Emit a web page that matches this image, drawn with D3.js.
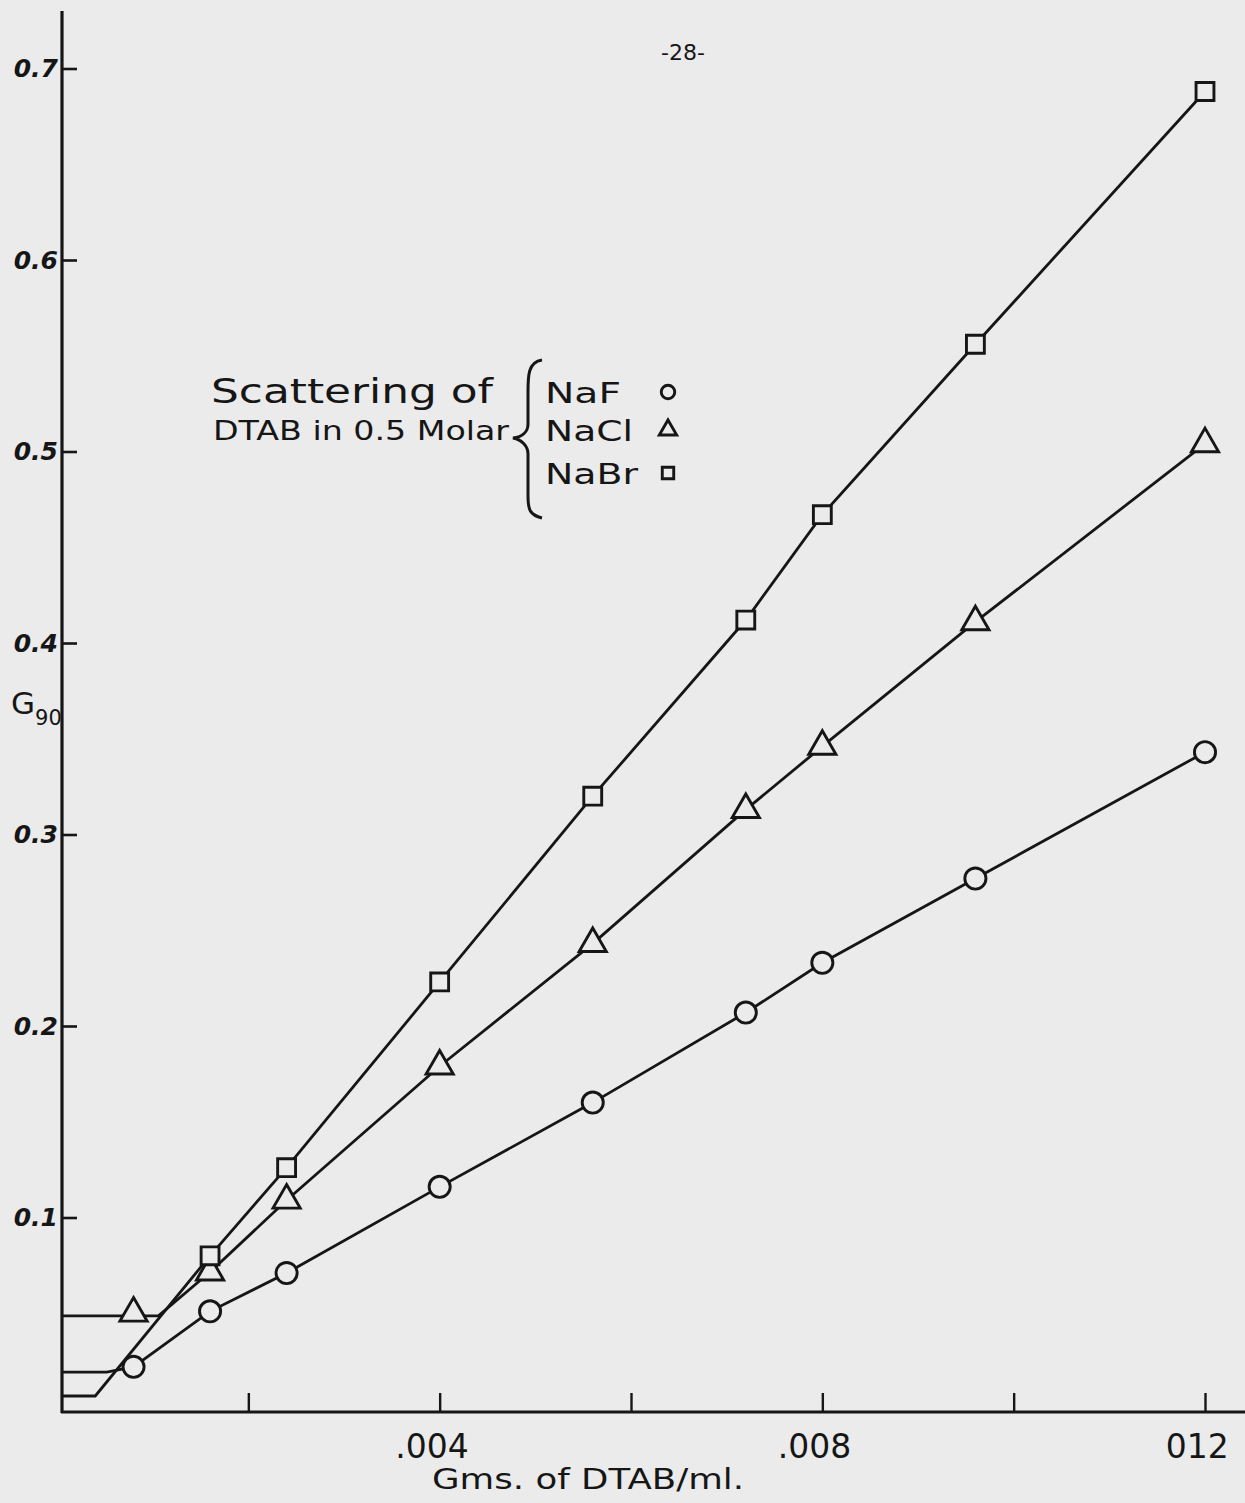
<!DOCTYPE html>
<html>
<head>
<meta charset="UTF-8">
<script src="https://cdn.jsdelivr.net/npm/d3@7"></script>
<style>
  body { margin: 0; background: #ebebeb; }
  svg text { font-family: "DejaVu Sans", sans-serif; fill: #161616; }
</style>
</head>
<body>
<svg id="chart" width="1245" height="1503"></svg>
<script>
// concentration of DTAB, g/ml
const conc = [0.0008, 0.0016, 0.0024, 0.004, 0.0056, 0.0072, 0.008, 0.0096, 0.012];
// G90 for each salt (null = no point)
const naF  = [0.022, 0.051, 0.071, 0.116, 0.160, 0.207, 0.233, 0.277, 0.343];
const naCl = [0.050, 0.0715, 0.109, 0.179, 0.243, 0.313, 0.346, 0.411, 0.504];
const naBr = [null, 0.080, 0.126, 0.223, 0.320, 0.412, 0.467, 0.556, 0.688];
// solvent level (flat part) and where the line starts to rise
const baseLevel = { NaF: 0.0193, NaCl: 0.0486, NaBr: 0.0068 };
const breakConc = { NaF: 0.00052, NaCl: 0.00106, NaBr: 0.0004 };

const yTicks = [0.1, 0.2, 0.3, 0.4, 0.5, 0.6, 0.7];
const xTicks = [0.002, 0.004, 0.006, 0.008, 0.010, 0.012];
const xTickLabels = { 0.004: ".004", 0.008: ".008", 0.012: "012" };

const ink = "#161616";
const paper = "#ebebeb";

const svg = d3.select("#chart");
const x = d3.scaleLinear().domain([0, 0.012]).range([57, 1205]);
const y = d3.scaleLinear().domain([0, 0.7]).range([1409, 68.5]);

const axisX0 = x(0) + 5;     // vertical axis line
const axisY0 = y(0) + 3;     // horizontal axis line

// axes lines
svg.append("line").attr("x1", axisX0).attr("x2", axisX0).attr("y1", 11).attr("y2", axisY0 + 1)
  .attr("stroke", ink).attr("stroke-width", 3.2);
svg.append("line").attr("x1", axisX0 - 1).attr("x2", 1245).attr("y1", axisY0).attr("y2", axisY0)
  .attr("stroke", ink).attr("stroke-width", 3.2);

// y axis ticks
const gy = svg.append("g").attr("transform", `translate(${axisX0},0)`)
  .call(d3.axisLeft(y).tickValues(yTicks).tickFormat(d3.format(".1f"))
    .tickSize(-15).tickSizeOuter(0).tickPadding(4));
gy.select(".domain").remove();
gy.selectAll(".tick line").attr("stroke", ink).attr("stroke-width", 2.6);
gy.selectAll(".tick text").attr("font-size", 25).attr("font-weight", "bold")
  .attr("font-style", "italic").attr("fill", ink);

// x axis ticks
const gx = svg.append("g").attr("transform", `translate(0,${axisY0})`)
  .call(d3.axisBottom(x).tickValues(xTicks).tickFormat(d => xTickLabels[d] || "")
    .tickSize(-19).tickSizeOuter(0).tickPadding(23));
gx.select(".domain").remove();
gx.selectAll(".tick line").attr("stroke", ink).attr("stroke-width", 2.4);
gx.selectAll(".tick text").attr("font-size", 33).attr("fill", ink).attr("dx", "-0.25em");

// axis titles
svg.append("text").attr("x", 432).attr("y", 1489).attr("font-size", 28)
  .attr("textLength", 312).attr("lengthAdjust", "spacingAndGlyphs")
  .text("Gms. of DTAB/ml.");
const g90 = svg.append("text").attr("x", 11).attr("y", 714).attr("font-size", 31);
g90.append("tspan").text("G");
g90.append("tspan").attr("font-size", 21).attr("dy", 11).text("90");

// page number
svg.append("text").attr("x", 683).attr("y", 60).attr("text-anchor", "middle")
  .attr("font-size", 22).text("-28-");

// series
const series = [
  { name: "NaF",  vals: naF,  shape: "circle" },
  { name: "NaCl", vals: naCl, shape: "triangle" },
  { name: "NaBr", vals: naBr, shape: "square" }
];

const line = d3.line().x(d => x(d[0])).y(d => y(d[1]));

series.forEach(s => {
  const pts = [[0, baseLevel[s.name]], [breakConc[s.name], baseLevel[s.name]]];
  conc.forEach((c, i) => {
    if (s.vals[i] != null && c > breakConc[s.name]) pts.push([c, s.vals[i]]);
  });
  pts[0][0] = x.invert(axisX0);
  svg.append("path").datum(pts).attr("d", line)
    .attr("fill", "none").attr("stroke", ink).attr("stroke-width", 2.8);
});

const symType = { circle: d3.symbolCircle, triangle: d3.symbolTriangle, square: d3.symbolSquare };
const symSize = { circle: 350, triangle: 320, square: 320 };

function drawMarker(g, shape, cx, cy, scale) {
  g.append("path")
    .attr("d", d3.symbol().type(symType[shape]).size(symSize[shape] * scale * scale)())
    .attr("transform", `translate(${cx},${cy})`)
    .attr("fill", paper).attr("stroke", ink).attr("stroke-width", 2.9);
}

series.forEach(s => {
  const g = svg.append("g");
  conc.forEach((c, i) => {
    if (s.vals[i] == null) return;
    drawMarker(g, s.shape, x(c), y(s.vals[i]), 1);
  });
});

// legend note
svg.append("text").attr("x", 211).attr("y", 403).attr("font-size", 33)
  .attr("textLength", 282).attr("lengthAdjust", "spacingAndGlyphs").text("Scattering of");
svg.append("text").attr("x", 213).attr("y", 440).attr("font-size", 27)
  .attr("textLength", 296).attr("lengthAdjust", "spacingAndGlyphs").text("DTAB in 0.5 Molar");

svg.append("path")
  .attr("d", "M542,360 C528,362 528,376 528,392 L528,424 C528,432 522,437 513,438 C522,440 528,446 528,454 L528,496 C528,510 530,515 542,518")
  .attr("fill", "none").attr("stroke", ink).attr("stroke-width", 3);

const legendRows = [
  { name: "NaF",  shape: "circle",   yb: 403, w: 76 },
  { name: "NaCl", shape: "triangle", yb: 441, w: 88 },
  { name: "NaBr", shape: "square",   yb: 484, w: 93 }
];
const lg = svg.append("g");
legendRows.forEach(r => {
  lg.append("text").attr("x", 545).attr("y", r.yb).attr("font-size", 29)
    .attr("textLength", r.w).attr("lengthAdjust", "spacingAndGlyphs").text(r.name);
  drawMarker(lg, r.shape, 668, r.yb - 11, 0.64);
});
</script>
</body>
</html>
